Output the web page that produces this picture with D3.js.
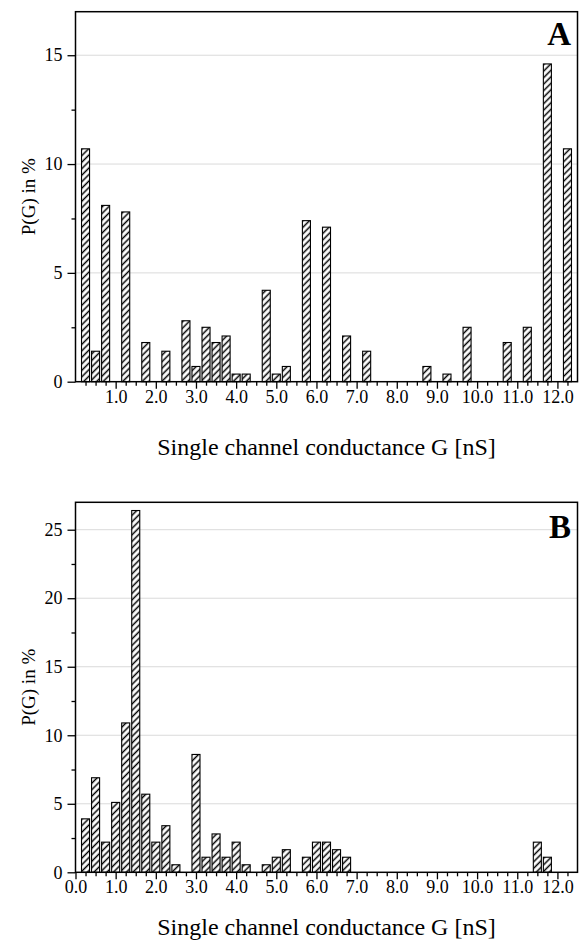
<!DOCTYPE html>
<html><head><meta charset="utf-8">
<script src="https://cdn.jsdelivr.net/npm/d3@7"></script>
<style>body{margin:0;background:#fff}svg{display:block}
svg text{font-family:"Liberation Serif","Times New Roman",Times,serif !important;}</style>
</head><body>
<svg id="chart" width="579" height="942"></svg>
<script>
// ---- data ----
const binsA = [0.25,0.5,0.75,1.25,1.75,2.25,2.75,3.0,3.25,3.5,3.75,4.0,4.25,4.75,5.0,5.25,5.75,6.25,6.75,7.25,8.75,9.25,9.75,10.75,11.25,11.75,12.25];
const valuesA = [10.7,1.4,8.1,7.8,1.8,1.4,2.8,0.7,2.5,1.8,2.1,0.35,0.35,4.2,0.35,0.7,7.4,7.1,2.1,1.4,0.7,0.35,2.5,1.8,2.5,14.6,10.7];
const binsB = [0.25,0.5,0.75,1.0,1.25,1.5,1.75,2.0,2.25,2.5,3.0,3.25,3.5,3.75,4.0,4.25,4.75,5.0,5.25,5.75,6.0,6.25,6.5,6.75,11.5,11.75];
const valuesB = [3.9,6.9,2.2,5.1,10.9,26.4,5.7,2.2,3.4,0.55,8.6,1.1,2.8,1.1,2.2,0.55,0.55,1.1,1.65,1.1,2.2,2.2,1.65,1.1,2.2,1.1];
const xTickLabelsA = ["1.0","2.0","3.0","4.0","5.0","6.0","7.0","8.0","9.0","10.0","11.0","12.0"];
const xTickLabelsB = ["0.0","1.0","2.0","3.0","4.0","5.0","6.0","7.0","8.0","9.0","10.0","11.0","12.0"];
const yTicksA = [0,5,10,15];
const yTicksB = [0,5,10,15,20,25];
const yMaxA = 17, yMaxB = 27;
const xMax = 12.5;
const binWidth = 0.2;
const xTitle = "Single channel conductance G [nS]";
const yTitle = "P(G) in %";

const svg = d3.select("#chart");
const FONT = '"Liberation Serif","Times New Roman",Times,serif';

// hatch pattern
const defs = svg.append("defs");
const S = 4.6;
const pat = defs.append("pattern").attr("id","hatch")
  .attr("patternUnits","userSpaceOnUse").attr("width",S).attr("height",S)
  .attr("patternTransform","rotate(45)");
pat.append("rect").attr("width",S).attr("height",S).attr("fill","#fff");
pat.append("line").attr("x1",S/2).attr("y1",0).attr("x2",S/2).attr("y2",S)
  .attr("stroke","#000").attr("stroke-width",1.5);

const left = 75.5, right = 577.5;
const x = d3.scaleLinear().domain([0,xMax]).range([left,right]);

const panels = [
  {letter:"A", bins:binsA, values:valuesA, top:11.7, bottom:381.7, ymax:yMaxA, yTicks:yTicksA, xLabels:xTickLabelsA, titleY:455, letterY:45},
  {letter:"B", bins:binsB, values:valuesB, top:502.3, bottom:872.3, ymax:yMaxB, yTicks:yTicksB, xLabels:xTickLabelsB, titleY:935, letterY:538}
];

panels.forEach(p => {
  const y = d3.scaleLinear().domain([0,p.ymax]).range([p.bottom,p.top]);
  const g = svg.append("g");

  g.selectAll("line.grid").data(p.yTicks.filter(v=>v>0)).join("line")
    .attr("x1",left).attr("x2",right).attr("y1",d=>y(d)).attr("y2",d=>y(d))
    .attr("stroke","#dadada").attr("stroke-width",1);

  g.selectAll("rect.bar").data(p.bins.map((b,i)=>({b,v:p.values[i]}))).join("rect")
    .attr("x",d=>x(d.b-binWidth/2)).attr("width",x(binWidth)-x(0))
    .attr("y",d=>y(d.v)).attr("height",d=>y(0)-y(d.v))
    .attr("fill","url(#hatch)").attr("stroke","#000").attr("stroke-width",1.1);

  const minorY = d3.range(2.5,p.ymax,5);
  const yMinor = g.append("g").attr("transform",`translate(${left},0)`)
    .call(d3.axisLeft(y).tickValues(minorY).tickSize(4).tickFormat(""));
  const yMajor = g.append("g").attr("transform",`translate(${left},0)`)
    .call(d3.axisLeft(y).tickValues(p.yTicks).tickSize(8).tickPadding(5).tickFormat(d3.format("d")));
  const minorX = d3.range(0.25,xMax,0.25).filter(v=>Math.abs(v-Math.round(v))>1e-6);
  const xMinor = g.append("g").attr("transform",`translate(0,${p.bottom})`)
    .call(d3.axisBottom(x).tickValues(minorX).tickSize(4).tickFormat(""));
  const xMajor = g.append("g").attr("transform",`translate(0,${p.bottom})`)
    .call(d3.axisBottom(x).tickValues(p.xLabels.map(Number)).tickSize(7)
      .tickFormat((d,i)=>p.xLabels[i]));
  [yMinor,yMajor,xMinor,xMajor].forEach(a=>{
    a.attr("font-family",FONT);
    a.select(".domain").remove();
    a.selectAll(".tick line").attr("stroke","#000").attr("stroke-width",1.3);
    a.selectAll("text").style("font-family",FONT).attr("font-size",18).attr("fill","#000");
  });
  xMajor.selectAll("text").attr("y",21).attr("dy","0");

  g.append("rect").attr("x",left).attr("y",p.top).attr("width",right-left).attr("height",p.bottom-p.top)
    .attr("fill","none").attr("stroke","#000").attr("stroke-width",1.5);

  g.append("text").attr("x",571).attr("y",p.letterY).attr("text-anchor","end")
    .style("font-family",FONT).attr("font-weight","bold").attr("font-size",33).text(p.letter);

  g.append("text").attr("x",(left+right)/2).attr("y",p.titleY).attr("text-anchor","middle")
    .style("font-family",FONT).attr("font-size",24).text(xTitle);
  g.append("text").attr("transform",`translate(35,${(p.top+p.bottom)/2}) rotate(-90)`)
    .attr("text-anchor","middle").style("font-family",FONT).attr("font-size",19).text(yTitle);
});
</script>
</body></html>
